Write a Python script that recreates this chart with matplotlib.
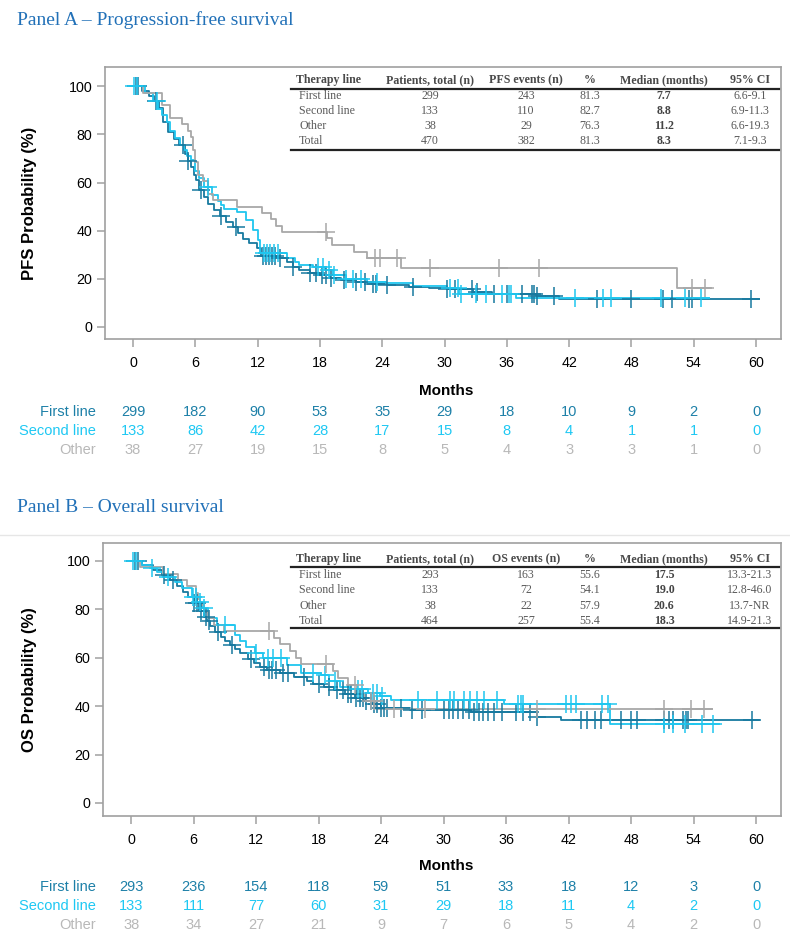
import matplotlib
matplotlib.use("Agg")
import matplotlib.pyplot as plt
import numpy as np
from matplotlib.transforms import blended_transform_factory
from matplotlib.lines import Line2D

# ---------------- data ----------------
months_ticks = [0, 6, 12, 18, 24, 30, 36, 42, 48, 54, 60]
prob_ticks = [0, 20, 40, 60, 80, 100]
groups = ["First line", "Second line", "Other"]

# Panel A – PFS Kaplan-Meier steps (time in months, survival %)
pfs_first_t = [0, 0.9, 1.5, 2.0, 2.5, 2.9, 3.4, 3.9, 4.4, 5.0, 5.3, 5.6, 5.9, 6.1, 6.4, 6.8, 7.25, 7.8, 8.4, 9.0,
               9.6, 10.1, 10.6, 11.2, 11.9, 12.3, 13.9, 14.8, 15.4, 16.0, 17.0, 18.0, 19.0, 20.0, 21.5, 23.0,
               24.5, 26.6, 28.5, 30.2, 32.7, 34.6, 38.8, 41.0]
pfs_first_s = [100, 98, 96, 94, 91, 85, 81, 78, 75.5, 72, 69, 66.5, 63, 61, 57, 54, 51, 48.5, 46, 43.5,
               41.6, 39, 36.7, 35, 33, 29.5, 28.5, 27, 25, 23.5, 22.5, 21.5, 20.5, 19.5, 18.8, 18,
               17.4, 16.7, 16.2, 15.8, 14.5, 13.6, 12.8, 11.6]
pfs_first_end = 60.3
pfs_first_cens = [0.3, 0.5, 2.2, 4.8, 5.3, 6.5, 8.5, 9.9, 12.5, 12.8, 13.1, 13.4, 13.7, 14.2, 15.4, 17.0, 17.6,
                  18.2, 18.6, 19.1, 20.3, 21.5, 22.3, 23.1, 23.4, 24.5, 27.0, 30.2, 31.0, 32.6, 33.1, 34.8,
                  36.0, 37.5, 38.4, 38.6, 38.9, 40.5, 44.7, 48.0, 51.0, 51.9, 53.5, 53.8, 59.5]

pfs_second_t = [0, 1.2, 1.9, 2.4, 2.8, 3.3, 3.6, 4.0, 4.5, 4.9, 5.2, 5.6, 6.0, 6.4, 6.8, 7.6, 8.2, 8.5, 8.8,
                10.0, 10.9, 11.6, 12.0, 12.2, 14.8, 15.6, 16.0, 17.3, 18.5, 19.3, 20.5, 22.5, 24.4, 27.0,
                30.2, 31.4, 36.9]
pfs_second_s = [100, 97, 94, 90.7, 88, 85, 81.5, 78.3, 75.5, 73.4, 71, 69.3, 65, 62, 58.2, 54.8, 52.5, 50.6, 49,
                47.9, 44.4, 40.2, 36, 30.7, 28.5, 27, 25.7, 25, 23.5, 21.6, 20, 18.8, 18.1, 17,
                16, 13.7, 11.9]
pfs_second_end = 55.5
pfs_second_cens = [0.1, 0.4, 2.3, 7.2, 12.6, 12.9, 13.2, 13.6, 14.0, 17.8, 18.3, 18.9, 19.4, 20.5, 21.2, 22.0,
                   23.5, 30.5, 31.3, 31.6, 33.0, 34.0, 35.5, 36.2, 36.4, 42.6, 45.3, 46.0, 50.8, 53.2, 54.7]

pfs_other_t = [0, 1.0, 2.75, 3.56, 4.7, 5.3, 5.6, 5.8, 6.0, 6.3, 6.7, 7.2, 7.7, 10.0, 12.4, 13.3, 13.8, 14.3,
               18.7, 19.2, 21.3, 22.5, 25.8, 52.4]
pfs_other_s = [100, 97.4, 92.1, 86.8, 84.2, 81.6, 78.9, 73.7, 68.4, 63.2, 60.5, 55.3, 52.6, 50, 47.4, 44.7, 42.1,
               39.5, 36.8, 34.0, 31.3, 28.5, 24.3, 16.3]
pfs_other_end = 55.7
pfs_other_cens = [18.6, 23.3, 23.8, 25.4, 28.6, 35.2, 39.1, 53.8, 55.1]

# Panel B – OS Kaplan-Meier steps
os_first_t = [0, 1.0, 2.1, 3.0, 3.75, 4.4, 5.0, 5.5, 6.0, 6.5, 6.95, 7.3, 7.6, 8.1, 8.6, 9.0, 9.5, 10.0, 10.5,
              11.2, 11.8, 12.4, 13.0, 14.3, 15.6, 16.9, 17.5, 18.5, 19.5, 20.5, 21.5, 22.5, 23.2, 24.0, 26.8,
              32.6, 39.0, 41.3]
os_first_s = [100, 98.5, 96.3, 94.2, 92.1, 89.5, 87.3, 85, 82.5, 79.5, 77, 75, 72.9, 70.5, 68.7, 67, 65.3, 63.5,
              61.9, 59.5, 57.7, 56.2, 55, 53.5, 52.2, 50.5, 49.3, 48, 46.5, 45, 43.5, 42.2, 41, 39.3, 38.4,
              37.7, 35.7, 34.3]
os_first_end = 60.3
os_first_cens = [0.4, 0.7, 3.2, 4.0, 6.0, 6.3, 6.7, 7.2, 7.5, 8.3, 9.7, 11.5, 12.8, 13.2, 13.5, 13.9, 14.6, 15.1,
                 16.6, 18.0, 19.0, 19.8, 20.3, 20.8, 21.1, 21.6, 22.0, 22.3, 22.6, 23.0, 23.3, 23.6, 24.0, 24.3,
                 24.6, 25.9, 27.0, 27.9, 30.0, 30.5, 30.9, 31.4, 31.9, 32.4, 32.9, 33.4, 33.8, 34.3, 34.8, 35.6,
                 37.0, 37.6, 38.3, 39.0, 43.2, 43.8, 44.5, 45.1, 47.0, 48.0, 48.6, 51.2, 51.6, 52.0, 53.0, 53.3,
                 53.5, 59.6]

os_second_t = [0, 1.0, 1.8, 2.5, 3.1, 4.2, 4.9, 5.8, 6.3, 6.8, 7.4, 8.2, 10.0, 10.5, 11.0, 11.9, 12.7, 15.0,
               16.3, 18.2, 19.0, 20.1, 21.0, 22.7, 23.9, 25.0, 35.8, 46.0]
os_second_s = [100, 98.5, 97, 95.5, 93.5, 91.4, 88.7, 85.2, 83, 80.4, 76.3, 73.6, 69.4, 67, 64.6, 61.9, 59.7, 57,
               53.5, 52.9, 50.5, 48.1, 47, 45.6, 44.2, 42.6, 40.9, 32.6]
os_second_end = 56.4
os_second_cens = [0.2, 0.5, 2.0, 3.5, 5.9, 6.2, 6.6, 7.0, 9.0, 12.0, 13.1, 13.6, 14.4, 17.5, 18.6, 19.6, 21.8,
                  22.2, 23.2, 23.6, 24.1, 27.5, 29.4, 30.6, 31.0, 32.0, 32.5, 33.2, 33.9, 35.1, 37.1, 37.4,
                  37.6, 41.8, 42.2, 42.7, 45.2, 45.8, 51.2, 52.0, 53.2, 54.8, 55.9]

os_other_t = [0, 0.9, 3.1, 4.5, 5.4, 6.2, 6.4, 6.6, 7.0, 7.4, 8.0, 8.9, 13.7, 14.3, 15.3, 15.8, 16.3, 19.4, 19.9,
              20.8, 21.7, 22.4, 23.5]
os_other_s = [100, 97.4, 94.7, 92.1, 89.5, 86.8, 84.2, 81.6, 78.9, 76.3, 73.7, 71.1, 68.3, 65.6, 62.7, 59.8,
              57.4, 54.5, 51.6, 48.6, 45.2, 42.0, 38.8]
os_other_end = 55.8
os_other_cens = [13.2, 18.7, 21.5, 23.0, 23.3, 25.2, 28.2, 39.0, 51.2, 53.8, 55.0]

# Number at risk
pfs_risk_first = [299, 182, 90, 53, 35, 29, 18, 10, 9, 2, 0]
pfs_risk_second = [133, 86, 42, 28, 17, 15, 8, 4, 1, 1, 0]
pfs_risk_other = [38, 27, 19, 15, 8, 5, 4, 3, 3, 1, 0]
os_risk_first = [293, 236, 154, 118, 59, 51, 33, 18, 12, 3, 0]
os_risk_second = [133, 111, 77, 60, 31, 29, 18, 11, 4, 2, 0]
os_risk_other = [38, 34, 27, 21, 9, 7, 6, 5, 4, 2, 0]

# Summary tables
table_lines = ["First line", "Second line", "Other", "Total"]
pfs_patients = ["299", "133", "38", "470"]
pfs_events = ["243", "110", "29", "382"]
pfs_pct = ["81.3", "82.7", "76.3", "81.3"]
pfs_median = ["7.7", "8.8", "11.2", "8.3"]
pfs_ci = ["6.6-9.1", "6.9-11.3", "6.6-19.3", "7.1-9.3"]
os_patients = ["293", "133", "38", "464"]
os_events = ["163", "72", "22", "257"]
os_pct = ["55.6", "54.1", "57.9", "55.4"]
os_median = ["17.5", "19.0", "20.6", "18.3"]
os_ci = ["13.3-21.3", "12.8-46.0", "13.7-NR", "14.9-21.3"]

# ---------------- style ----------------
W, H = 790, 941
C_FIRST = "#17799f"
C_SECOND = "#1fc6ef"
C_OTHER = "#a8a8a8"
T_FIRST = "#1d80a8"
T_SECOND = "#1ec8f3"
T_OTHER = "#b8b8b8"
TITLE_C = "#2271b8"
SANS = ["Liberation Sans", "DejaVu Sans"]
SERIF = ["Liberation Serif", "DejaVu Serif"]
RISK_SIZE = 10.5

fig = plt.figure(figsize=(W / 100, H / 100), dpi=100)


def fx(px):
    return px / W


def fy(py):
    return 1 - py / H


def step_value(t, s, c):
    i = np.searchsorted(np.asarray(t), c, side="right") - 1
    return np.asarray(s)[i]


def draw_km(ax, t, s, end, cens, color):
    tt = list(t) + [end]
    ss = list(s) + [s[-1]]
    ax.step(tt, ss, where="post", color=color, lw=1.3, zorder=3)
    cy = [step_value(t, s, c) for c in cens]
    ax.plot(cens, cy, ls="none", marker="+", ms=13, mew=1.1, color=color, zorder=4)


def setup_axes(ax):
    ax.set_xlim(-2.7, 62.4)
    ax.set_ylim(-5, 108)
    for sp in ax.spines.values():
        sp.set_color("#a0a0a0")
        sp.set_linewidth(1.2)
    ax.set_xticks(months_ticks)
    ax.set_yticks(prob_ticks)
    ax.tick_params(axis="both", direction="out", length=6, width=1.1, color="#a0a0a0",
                   labelsize=10.3)
    ax.tick_params(axis="y", pad=3)
    ax.tick_params(axis="x", pad=6)
    for lab in ax.get_xticklabels() + ax.get_yticklabels():
        lab.set_family(SANS)


def draw_table(ax_px_left, ax_px_right, header_y, row_ys, line1_y, line2_y, col_heads, cols):
    for yy in (line1_y, line2_y):
        fig.add_artist(Line2D([fx(ax_px_left), fx(ax_px_right)], [fy(yy), fy(yy)],
                              color="#222222", lw=1.6, zorder=6))
    col_x = [296, 430, 526, 590, 664, 750]
    for j, head in enumerate(col_heads):
        ha = "left" if j == 0 else "center"
        fig.text(fx(col_x[j]), fy(header_y), head, ha=ha, va="center", family=SERIF,
                 fontsize=8.6, fontweight="bold", color="#4a4a4a")
    for i, ry in enumerate(row_ys):
        for j, col in enumerate(cols):
            ha = "left" if j == 0 else "center"
            xx = col_x[j] + (3 if j == 0 else 0)
            fw = "bold" if j == 4 else "normal"
            fig.text(fx(xx), fy(ry), col[i], ha=ha, va="center", family=SERIF,
                     fontsize=8.6, fontweight=fw, color="#5a5a5a" if j != 4 else "#444444")


def draw_risk(ax, rows_y, risks):
    tr = blended_transform_factory(ax.transData, fig.transFigure)
    colors = [T_FIRST, T_SECOND, T_OTHER]
    for name, ry, vals, col in zip(groups, rows_y, risks, colors):
        fig.text(fx(96), fy(ry), name, ha="right", va="center", family=SANS,
                 fontsize=RISK_SIZE, color=col)
        for m, v in zip(months_ticks, vals):
            ax.text(m, fy(ry), str(v), transform=tr, ha="center", va="center", family=SANS,
                    fontsize=RISK_SIZE, color=col, clip_on=False)


# ---------------- Panel A ----------------
fig.text(fx(17), fy(20), "Panel A \u2013 Progression-free survival", ha="left", va="center",
         family=SERIF, fontsize=14, color=TITLE_C)
axA = fig.add_axes([fx(105), fy(339), fx(781) - fx(105), fy(67) - fy(339)])
setup_axes(axA)
draw_km(axA, pfs_first_t, pfs_first_s, pfs_first_end, pfs_first_cens, C_FIRST)
draw_km(axA, pfs_second_t, pfs_second_s, pfs_second_end, pfs_second_cens, C_SECOND)
draw_km(axA, pfs_other_t, pfs_other_s, pfs_other_end, pfs_other_cens, C_OTHER)
fig.text(fx(30), fy(203), "PFS Probability (%)", rotation=90, ha="center", va="center",
         family=SANS, fontsize=12, fontweight="bold")
fig.text(fx(446), fy(391), "Months", ha="center", va="center", family=SANS, fontsize=11, fontweight="bold")
draw_table(291, 779, 80, [96, 111, 126, 141], 89, 150,
           ["Therapy line", "Patients, total (n)", "PFS events (n)", "%", "Median (months)", "95% CI"],
           [table_lines, pfs_patients, pfs_events, pfs_pct, pfs_median, pfs_ci])
draw_risk(axA, [412, 431, 450], [pfs_risk_first, pfs_risk_second, pfs_risk_other])

# ---------------- Panel B ----------------
fig.text(fx(17), fy(508), "Panel B \u2013 Overall survival", ha="left", va="center",
         family=SERIF, fontsize=14, color=TITLE_C)
fig.add_artist(Line2D([0, 1], [fy(535), fy(535)], color="#e6e6e6", lw=1.0))
axB = fig.add_axes([fx(103), fy(816), fx(781) - fx(103), fy(543) - fy(816)])
setup_axes(axB)
axB.set_ylim(-5.4, 107.4)
draw_km(axB, os_first_t, os_first_s, os_first_end, os_first_cens, C_FIRST)
draw_km(axB, os_second_t, os_second_s, os_second_end, os_second_cens, C_SECOND)
draw_km(axB, os_other_t, os_other_s, os_other_end, os_other_cens, C_OTHER)
fig.text(fx(30), fy(680), "OS Probability (%)", rotation=90, ha="center", va="center",
         family=SANS, fontsize=12, fontweight="bold")
fig.text(fx(446), fy(866), "Months", ha="center", va="center", family=SANS, fontsize=11, fontweight="bold")
draw_table(291, 779, 559, [575, 590, 606, 621], 567, 628,
           ["Therapy line", "Patients, total (n)", "OS events (n)", "%", "Median (months)", "95% CI"],
           [table_lines, os_patients, os_events, os_pct, os_median, os_ci])
draw_risk(axB, [887, 906, 925], [os_risk_first, os_risk_second, os_risk_other])

fig.savefig("out.png", dpi=100)
